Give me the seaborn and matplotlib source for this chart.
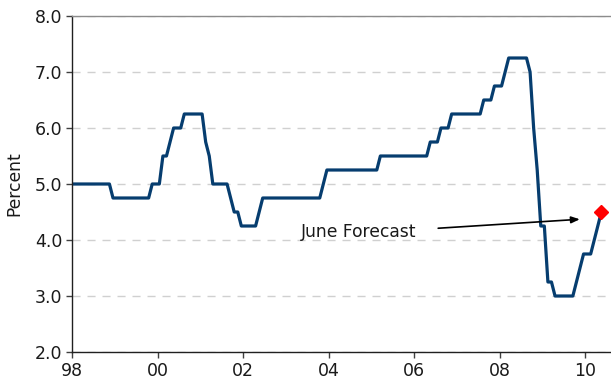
import numpy as np
import pandas as pd
import seaborn as sns
import matplotlib.pyplot as plt

# monthly cash rate, Dec 1997 .. May 2010 (percent)
start_month = "1997-12"
rate_1997 = [5.0]
rate_1998 = [5.0, 5.0, 5.0, 5.0, 5.0, 5.0, 5.0, 5.0, 5.0, 5.0, 5.0, 4.75]
rate_1999 = [4.75, 4.75, 4.75, 4.75, 4.75, 4.75, 4.75, 4.75, 4.75, 4.75, 5.0, 5.0]
rate_2000 = [5.0, 5.5, 5.5, 5.75, 6.0, 6.0, 6.0, 6.25, 6.25, 6.25, 6.25, 6.25]
rate_2001 = [6.25, 5.75, 5.5, 5.0, 5.0, 5.0, 5.0, 5.0, 4.75, 4.5, 4.5, 4.25]
rate_2002 = [4.25, 4.25, 4.25, 4.25, 4.5, 4.75, 4.75, 4.75, 4.75, 4.75, 4.75, 4.75]
rate_2003 = [4.75, 4.75, 4.75, 4.75, 4.75, 4.75, 4.75, 4.75, 4.75, 4.75, 5.0, 5.25]
rate_2004 = [5.25, 5.25, 5.25, 5.25, 5.25, 5.25, 5.25, 5.25, 5.25, 5.25, 5.25, 5.25]
rate_2005 = [5.25, 5.25, 5.5, 5.5, 5.5, 5.5, 5.5, 5.5, 5.5, 5.5, 5.5, 5.5]
rate_2006 = [5.5, 5.5, 5.5, 5.5, 5.75, 5.75, 5.75, 6.0, 6.0, 6.0, 6.25, 6.25]
rate_2007 = [6.25, 6.25, 6.25, 6.25, 6.25, 6.25, 6.25, 6.5, 6.5, 6.5, 6.75, 6.75]
rate_2008 = [6.75, 7.0, 7.25, 7.25, 7.25, 7.25, 7.25, 7.25, 7.0, 6.0, 5.25, 4.25]
rate_2009 = [4.25, 3.25, 3.25, 3.0, 3.0, 3.0, 3.0, 3.0, 3.0, 3.25, 3.5, 3.75]
rate_2010 = [3.75, 3.75, 4.0, 4.25, 4.5]

forecast_month = "2010-05"
forecast_rate = 4.5

year_ticks = [1998, 2000, 2002, 2004, 2006, 2008, 2010]
year_labels = ["98", "00", "02", "04", "06", "08", "10"]
pct_ticks = [2, 3, 4, 5, 6, 7, 8]


def to_year(periods):
    # mid-month as decimal year
    return periods.year + (periods.month - 0.5) / 12


rates = (rate_1997 + rate_1998 + rate_1999 + rate_2000 + rate_2001 + rate_2002
         + rate_2003 + rate_2004 + rate_2005 + rate_2006 + rate_2007
         + rate_2008 + rate_2009 + rate_2010)
months = pd.period_range(start_month, periods=len(rates), freq="M")
df = pd.DataFrame({"year": to_year(months), "rate": rates})
fc = pd.Period(forecast_month, freq="M")
fc_year = fc.year + (fc.month - 0.5) / 12

sns.set_style("white")
plt.rcParams["font.family"] = ["DejaVu Sans"]
plt.rcParams["text.color"] = "#1a1a1a"
plt.rcParams["xtick.labelcolor"] = "#1a1a1a"
plt.rcParams["ytick.labelcolor"] = "#1a1a1a"
plt.rcParams["axes.labelcolor"] = "#1a1a1a"

fig = plt.figure(figsize=(6.11, 3.85), dpi=100)
ax = fig.add_axes([72 / 611, 33 / 385, 539 / 611, 336 / 385])

sns.lineplot(data=df, x="year", y="rate", ax=ax, color="#063d6f", lw=2.3)
ax.plot([fc_year], [forecast_rate], marker="D", ms=7.5, color="#ff0000",
        ls="none", zorder=5)

ax.text(2003.35, 4.14, "June Forecast", fontsize=12.3, va="center", ha="left")
ax.annotate("", xy=(2009.87, 4.37), xytext=(2006.56, 4.21),
            arrowprops=dict(arrowstyle="-|>,head_length=0.5,head_width=0.2",
                            color="black", lw=1.2, shrinkA=0, shrinkB=0))

ax.set_xlim(1998, 2010.6)
ax.set_ylim(2, 8)
ax.set_xticks(year_ticks)
ax.set_xticklabels(year_labels)
ax.set_yticks(pct_ticks)
ax.set_yticklabels([f"{v:.1f}" for v in pct_ticks])
ax.set_xlabel("")
ax.set_ylabel("Percent", fontsize=12.3, labelpad=8)

ax.yaxis.grid(True, ls=(0, (5.8, 5)), color="#d0d0d0", lw=1)
ax.xaxis.grid(False)
ax.tick_params(axis="both", direction="out", length=4, width=1,
               color="#404040", labelsize=12.5, pad=3)
ax.tick_params(axis="y", left=True)
ax.tick_params(axis="x", bottom=True)

ax.spines["right"].set_visible(False)
ax.spines["top"].set_color("#8c8c8c")
ax.spines["left"].set_color("#202020")
ax.spines["bottom"].set_color("#202020")
for s in ["top", "left", "bottom"]:
    ax.spines[s].set_linewidth(1)

fig.savefig("out.png", dpi=100)
